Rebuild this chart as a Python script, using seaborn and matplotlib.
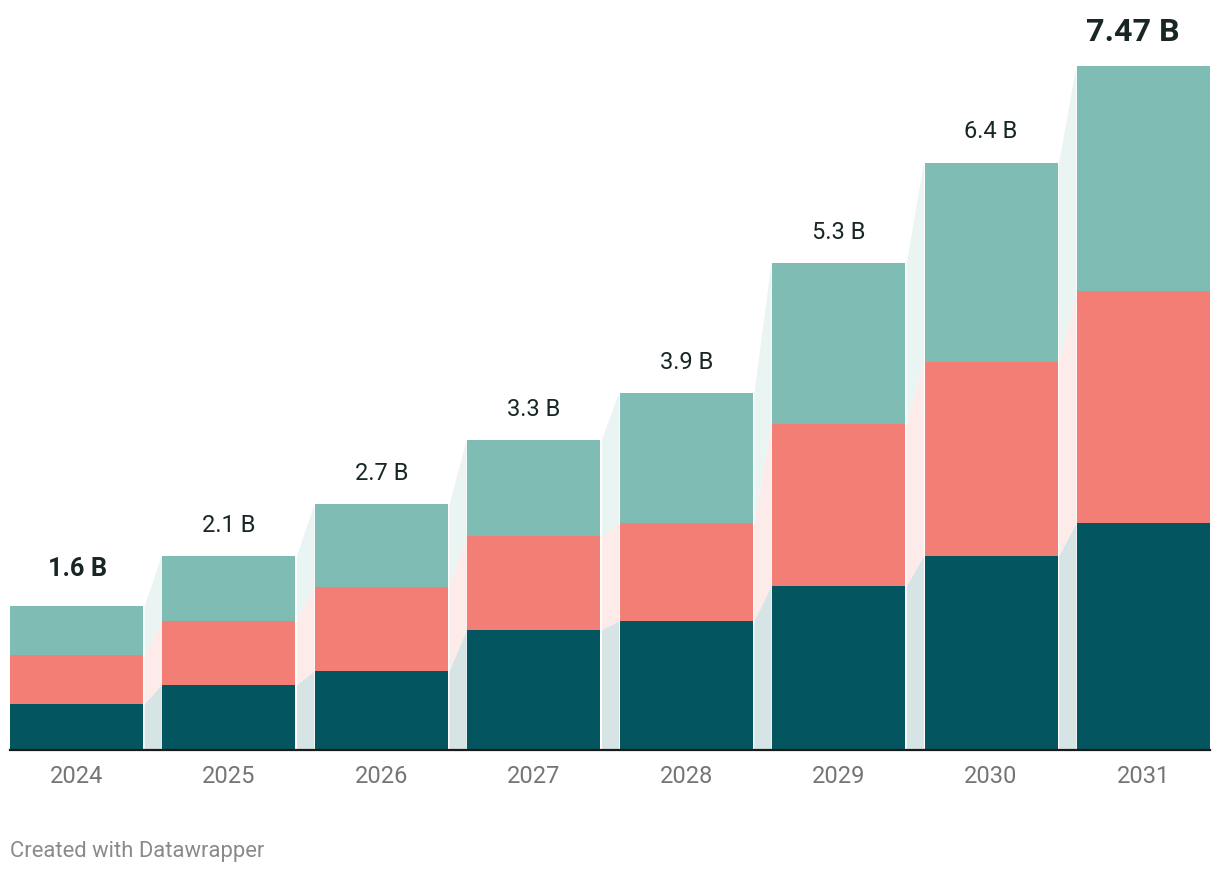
import numpy as np
import matplotlib
matplotlib.use("Agg")
import matplotlib.pyplot as plt
import seaborn as sns

# values (billions)
years = ["2024", "2025", "2026", "2027", "2028", "2029", "2030", "2031"]
seg_bottom = [0.50, 0.71, 0.86, 1.31, 1.41, 1.79, 2.12, 2.48]
seg_middle = [0.53, 0.70, 0.92, 1.02, 1.07, 1.77, 2.12, 2.53]
seg_top = [0.54, 0.71, 0.90, 1.06, 1.42, 1.76, 2.18, 2.46]
total_labels = ["1.6 B", "2.1 B", "2.7 B", "3.3 B", "3.9 B", "5.3 B", "6.4 B", "7.47 B"]

col_dark = "#03565F"
col_salmon = "#F37E75"
col_teal = "#7FBDB4"
conn_colors = ["#D7E4E6", "#FDEBE9", "#EAF4F2"]

sns.set_style("white")
plt.rcParams["font.family"] = ["Roboto", "DejaVu Sans"]

fig = plt.figure(figsize=(12.2, 8.72), dpi=100)
ax = fig.add_axes([10 / 1220, 1 - 749.5 / 872, 1200 / 1220, (749.5 - 20) / 872])

bw = 0.873
b = np.array(seg_bottom)
m = b + np.array(seg_middle)
t = m + np.array(seg_top)

# stacked bars: draw cumulative heights from tallest to shortest
sns.barplot(x=years, y=t, color=col_teal, width=bw, saturation=1, ax=ax, linewidth=0)
sns.barplot(x=years, y=m, color=col_salmon, width=bw, saturation=1, ax=ax, linewidth=0)
sns.barplot(x=years, y=b, color=col_dark, width=bw, saturation=1, ax=ax, linewidth=0)

# connectors between neighbouring bars
layers = [(np.zeros_like(b), b), (b, m), (m, t)]
gap = 0.007
for (lo, hi), c in zip(layers, conn_colors):
    for i in range(len(years) - 1):
        xs = [i + bw / 2 + gap, i + 1 - bw / 2 - gap]
        ax.fill_between(xs, [lo[i], lo[i + 1]], [hi[i], hi[i + 1]], color=c, lw=0, zorder=0)

# total labels
for i, lab in enumerate(total_labels):
    if i == 0:
        ax.annotate(lab, (i, t[i]), xytext=(1, 21.5), textcoords="offset points", ha="center",
                    va="baseline", fontsize=18.3, fontweight="bold", color="#182626")
    elif i == len(years) - 1:
        ax.annotate(lab, (i, t[i]), xytext=(-8, 18.5), textcoords="offset points", ha="center",
                    va="baseline", fontsize=23.2, fontweight="bold", color="#182626")
    else:
        ax.annotate(lab, (i, t[i]), xytext=(0, 17.3), textcoords="offset points", ha="center",
                    va="baseline", fontsize=17, color="#182626")

ax.set_xlim(-bw / 2, len(years) - 1 + bw / 2)
ax.set_ylim(0, 7.47 * (749.5 - 20) / 683)
ax.set_yticks([])
ax.set_xlabel("")
ax.set_ylabel("")
for s in ["top", "right", "left"]:
    ax.spines[s].set_visible(False)
ax.spines["bottom"].set_color("#1a1a1a")
ax.spines["bottom"].set_linewidth(1.6)
ax.spines["bottom"].set_zorder(5)
ax.tick_params(axis="x", length=0, pad=11, labelsize=17, labelcolor="#757575")

fig.text(10 / 1220, 1 - 857 / 872, "Created with Datawrapper", fontsize=15.8, color="#8a8a8a",
         ha="left", va="baseline")

fig.savefig("out.png", dpi=100)
